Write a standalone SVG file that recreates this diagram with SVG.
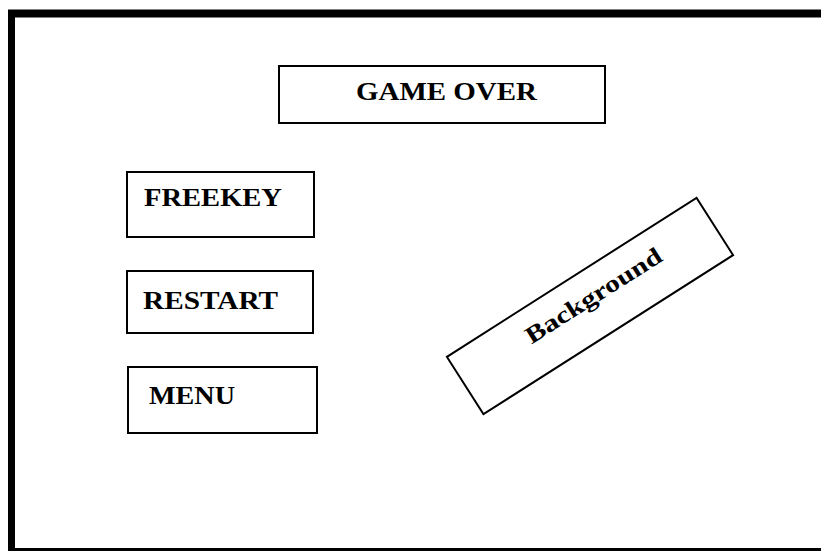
<svg xmlns="http://www.w3.org/2000/svg" width="821" height="551" viewBox="0 0 821 551">
<style>
.box{fill:#fff;stroke:#000;stroke-width:2}
.lbl{font-family:"Liberation Serif","Times New Roman",serif;font-weight:bold;fill:#000}
</style>
<rect x="0" y="0" width="821" height="551" fill="#fff"/>
<g id="frame">
<line x1="8" y1="13.5" x2="821" y2="13.5" stroke="#000" stroke-width="8"/>
<line x1="11.5" y1="10" x2="11.5" y2="551" stroke="#000" stroke-width="7"/>
<line x1="15" y1="549.5" x2="821" y2="549.5" stroke="#000" stroke-width="3"/>
</g>
<g id="gameover">
<rect class="box" x="279" y="66" width="326" height="57"/>
<text class="lbl" x="356" y="100" font-size="25" textLength="181" lengthAdjust="spacingAndGlyphs">GAME OVER</text>
</g>
<g id="freekey">
<rect class="box" x="127" y="172" width="187" height="65"/>
<text class="lbl" x="144" y="206" font-size="25" textLength="138" lengthAdjust="spacingAndGlyphs">FREEKEY</text>
</g>
<g id="restart">
<rect class="box" x="127" y="271" width="186" height="62"/>
<text class="lbl" x="143" y="309" font-size="25" textLength="135" lengthAdjust="spacingAndGlyphs">RESTART</text>
</g>
<g id="menu">
<rect class="box" x="128" y="367" width="189" height="66"/>
<text class="lbl" x="149" y="404" font-size="25" textLength="86" lengthAdjust="spacingAndGlyphs">MENU</text>
</g>
<g id="background" transform="translate(590,306) rotate(-32.5)">
<rect class="box" x="-148" y="-34" width="296" height="68"/>
<text class="lbl" x="-70" y="1" font-size="24" textLength="157" lengthAdjust="spacingAndGlyphs">Background</text>
</g>
<g id="connectors"></g>
</svg>
